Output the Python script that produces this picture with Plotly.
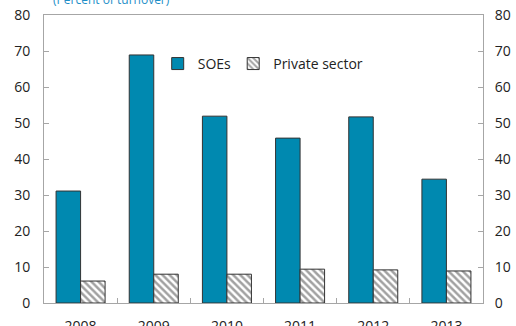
import plotly.graph_objects as go

years = ["2008", "2009", "2010", "2011", "2012", "2013"]
soes = [31.1, 68.9, 51.9, 45.8, 51.7, 34.4]
private_sector = [6.1, 8.0, 8.0, 9.4, 9.2, 8.9]

font_family = "Open Sans, Noto Sans, sans-serif"
axis_grey = "#a6a6a6"

fig = go.Figure()
fig.add_trace(go.Bar(
    x=years, y=soes, name="SOEs", legend="legend",
    marker=dict(color="#0089b0", line=dict(color="#333333", width=1)),
))
fig.add_trace(go.Bar(
    x=years, y=private_sector, name="Private sector", legend="legend2",
    marker=dict(color="white",
                pattern=dict(shape="\\", fgcolor="#444444", bgcolor="white",
                             size=5, solidity=0.5),
                line=dict(color="#333333", width=1)),
))
# invisible trace to carry the right-hand axis
fig.add_trace(go.Scatter(x=years, y=[None] * len(years), yaxis="y2",
                         showlegend=False, hoverinfo="skip"))

legend_style = dict(orientation="h", y=0.83, xanchor="left", yanchor="middle",
                    font=dict(size=14), itemwidth=30, bgcolor="rgba(0,0,0,0)")

fig.update_layout(
    width=516, height=326,
    margin=dict(l=44, r=33, t=15, b=23),
    paper_bgcolor="white", plot_bgcolor="white",
    barmode="group", bargap=0.33, bargroupgap=0,
    font=dict(family=font_family, size=14, color="#222222"),
    showlegend=True,
    legend=dict(x=0.259, **legend_style),
    legend2=dict(x=0.431, **legend_style),
    xaxis=dict(showline=True, linecolor=axis_grey, linewidth=1, mirror=True,
               ticks="inside", tickson="boundaries", ticklen=5, tickcolor=axis_grey,
               ticklabelstandoff=10, showgrid=False, automargin=False),
    yaxis=dict(range=[0, 80], dtick=10, showline=True, linecolor=axis_grey,
               ticks="inside", ticklen=5, tickcolor=axis_grey, showgrid=False,
               zeroline=False, ticklabelstandoff=10, automargin=False),
    yaxis2=dict(range=[0, 80], dtick=10, overlaying="y", side="right",
                showline=True, linecolor=axis_grey, ticks="inside", ticklen=5,
                tickcolor=axis_grey, showgrid=False, zeroline=False,
                ticklabelstandoff=8, automargin=False),
    annotations=[dict(text="(Percent of turnover)", xref="paper", yref="paper",
                      x=0.016, y=1.0, xanchor="left", yanchor="bottom", yshift=5,
                      showarrow=False, font=dict(size=12, color="#1f8fc8"))],
)

fig.write_html("out.html")
